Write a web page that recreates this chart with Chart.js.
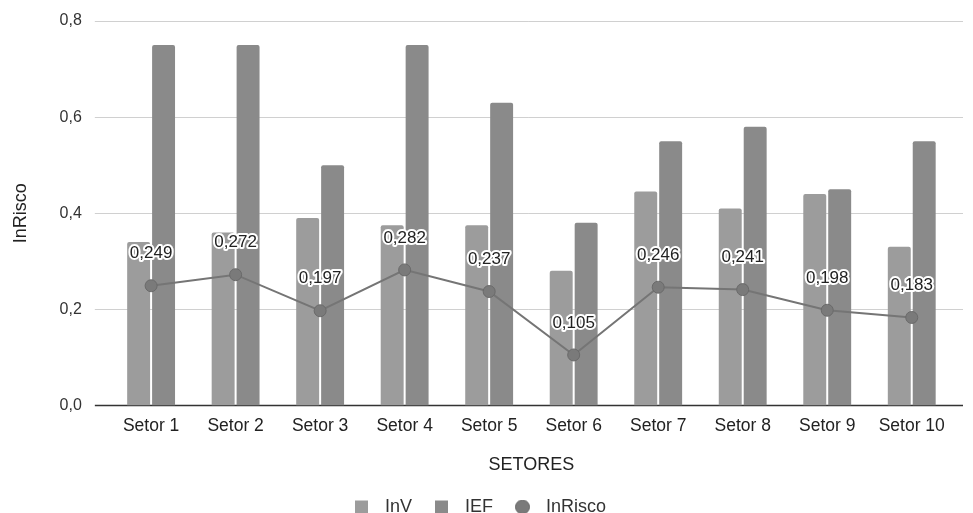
<!DOCTYPE html>
<html>
<head>
<meta charset="utf-8">
<script src="https://cdn.jsdelivr.net/npm/chart.js@4/dist/chart.umd.min.js"></script>
<style>
  html,body{margin:0;padding:0;background:#fff}
  #wrap{width:973px;height:513px}
</style>
</head>
<body>
<div id="wrap"><canvas id="c"></canvas></div>
<script>
var setores = ['Setor 1','Setor 2','Setor 3','Setor 4','Setor 5','Setor 6','Setor 7','Setor 8','Setor 9','Setor 10'];
var inV = [0.34, 0.36, 0.39, 0.375, 0.375, 0.28, 0.445, 0.41, 0.44, 0.33];
var ief = [0.75, 0.75, 0.5, 0.75, 0.63, 0.38, 0.55, 0.58, 0.45, 0.55];
var inRisco = [0.249, 0.272, 0.197, 0.282, 0.237, 0.105, 0.246, 0.241, 0.198, 0.183];
var yTicks = [0, 0.2, 0.4, 0.6, 0.8];

var FONTE = '"Liberation Sans", Arial, sans-serif';
function virgula(v, d){ return v.toFixed(d).replace('.', ','); }

// símbolo da legenda desenhado à esquerda de um canvas de 22px
function simbolo(cor, circulo){
  var cv = document.createElement('canvas');
  cv.width = 22; cv.height = 15;
  var g = cv.getContext('2d');
  g.fillStyle = cor;
  if(circulo){
    g.beginPath(); g.arc(7.5, 7.5, 7, 0, Math.PI*2); g.fill();
    g.strokeStyle = '#6a6a6a'; g.lineWidth = 1; g.stroke();
  } else {
    g.fillRect(1, 1, 13, 13);
  }
  return cv;
}

// linhas de grade um pouco além da área do gráfico, como no original
var grade = {
  id: 'grade',
  beforeDatasetsDraw: function(chart){
    var y = chart.scales.y, a = chart.chartArea, ctx = chart.ctx;
    ctx.save();
    yTicks.forEach(function(v){
      var py = Math.round(y.getPixelForValue(v)) + 0.5;
      ctx.beginPath();
      ctx.strokeStyle = v === 0 ? '#333' : '#d0d0d0';
      ctx.lineWidth = v === 0 ? 1.5 : 1;
      ctx.moveTo(a.left - 14, py);
      ctx.lineTo(a.right + 9, py);
      ctx.stroke();
    });
    ctx.restore();
  }
};

// rótulos com contorno branco acima dos pontos
var rotulos = {
  id: 'rotulos',
  afterDatasetsDraw: function(chart){
    var meta = chart.getDatasetMeta(0);
    var ctx = chart.ctx;
    ctx.save();
    ctx.font = '17px ' + FONTE;
    ctx.textAlign = 'center';
    ctx.textBaseline = 'middle';
    ctx.lineJoin = 'round';
    meta.data.forEach(function(p, i){
      var t = virgula(inRisco[i], 3);
      ctx.lineWidth = 4;
      ctx.strokeStyle = '#fff';
      ctx.strokeText(t, p.x, p.y - 32);
      ctx.fillStyle = '#222';
      ctx.fillText(t, p.x, p.y - 32);
    });
    ctx.restore();
  }
};

new Chart(document.getElementById('c'), {
  data: {
    labels: setores,
    datasets: [
      { type:'line', label:'InRisco', data:inRisco, borderColor:'#757575', backgroundColor:'#7a7a7a',
        borderWidth:2, pointRadius:6, pointBackgroundColor:'#7a7a7a', pointBorderColor:'#6a6a6a',
        pointBorderWidth:1, pointStyle:'circle', tension:0, order:0 },
      { type:'bar', label:'InV', data:inV, backgroundColor:'#9c9c9c', borderRadius:{topLeft:2,topRight:2},
        categoryPercentage:0.59, barPercentage:0.92, order:1 },
      { type:'bar', label:'IEF', data:ief, backgroundColor:'#8a8a8a', borderRadius:{topLeft:2,topRight:2},
        categoryPercentage:0.59, barPercentage:0.92, order:1 }
    ]
  },
  options: {
    responsive:true, maintainAspectRatio:false, animation:false,
    layout:{ padding:{ left:6, right:19, top:21, bottom:-13 } },
    plugins:{
      tooltip:{ enabled:false },
      legend:{
        position:'bottom',
        labels:{
          color:'#333', font:{ size:18, family:FONTE },
          usePointStyle:true, pointStyleWidth:22, boxHeight:15, padding:22,
          generateLabels:function(chart){
            var order = [1, 2, 0];
            return order.map(function(i){
              var ds = chart.data.datasets[i];
              return { text:ds.label, fillStyle:ds.backgroundColor, strokeStyle:ds.backgroundColor,
                lineWidth:0, pointStyle: simbolo(ds.backgroundColor, i === 0), datasetIndex:i, fontColor:'#333' };
            });
          }
        }
      }
    },
    scales:{
      x:{
        grid:{ display:false, drawTicks:false },
        border:{ display:false },
        ticks:{ color:'#222', font:{ size:17.5, family:FONTE }, padding:10, maxRotation:0 },
        title:{ display:true, text:'SETORES', color:'#222', font:{ size:18, family:FONTE }, padding:{ top:8, bottom:0 } }
      },
      y:{
        min:0, max:0.8,
        afterBuildTicks:function(s){ s.ticks = yTicks.map(function(v){ return { value:v }; }); },
        afterFit:function(s){ s.paddingTop = 0; s.paddingBottom = 0; },
        grid:{ display:false, drawTicks:false },
        border:{ display:false },
        ticks:{ color:'#333', font:{ size:16, family:FONTE }, padding:27,
          callback:function(v){ return virgula(v, 1); } },
        title:{ display:true, text:'InRisco', color:'#222', font:{ size:18, family:FONTE }, padding:{ bottom:1 } }
      }
    }
  },
  plugins:[grade, rotulos]
});
</script>
</body>
</html>
